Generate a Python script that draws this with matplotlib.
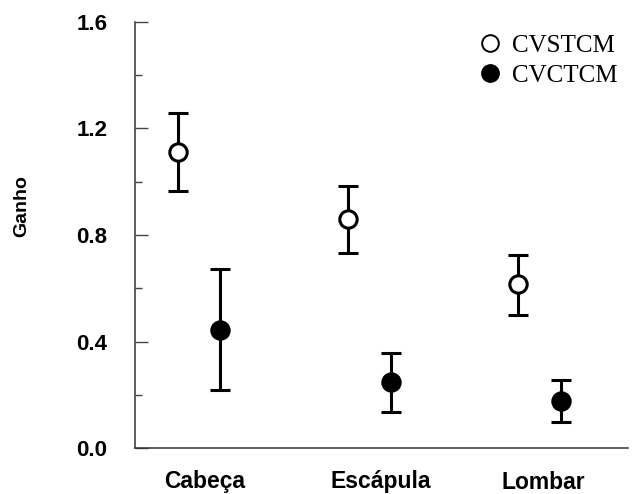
import numpy as np
import matplotlib
matplotlib.use('Agg')
from matplotlib import pyplot as plt
from matplotlib.ticker import MultipleLocator
from matplotlib.lines import Line2D

# data
categories = ['Cabeça', 'Escápula', 'Lombar']
cvstcm = [1.112, 0.860, 0.616]
cvstcm_hi = [1.258, 0.984, 0.725]
cvstcm_lo = [0.965, 0.732, 0.500]
cvctcm = [0.443, 0.248, 0.177]
cvctcm_hi = [0.672, 0.357, 0.255]
cvctcm_lo = [0.218, 0.135, 0.098]

plt.rcParams['font.family'] = ['Liberation Sans', 'DejaVu Sans']

fig = plt.figure(figsize=(6.35, 4.94), dpi=100)
ax = fig.add_axes([135/635, 1-448/494, (628-135)/635, (448-22)/494])

x = np.arange(1, len(categories)+1)
off = 0.125

def errs(v, lo, hi):
    v = np.array(v)
    return [v - np.array(lo), np.array(hi) - v]

ax.errorbar(x - off, cvstcm, yerr=errs(cvstcm, cvstcm_lo, cvstcm_hi), fmt='o',
            color='black', mfc='white', mec='black', ms=12.5, mew=2.2,
            elinewidth=2.2, capsize=7.2, capthick=2.2)
ax.errorbar(x + off, cvctcm, yerr=errs(cvctcm, cvctcm_lo, cvctcm_hi), fmt='o',
            color='black', mfc='black', mec='black', ms=12.5, mew=2.2,
            elinewidth=2.2, capsize=7.2, capthick=2.2)

ax.set_xlim(0.6235, 3.52)
ax.set_ylim(0, 1.6)
ax.yaxis.set_major_locator(MultipleLocator(0.4))
ax.yaxis.set_minor_locator(MultipleLocator(0.2))
ax.set_yticklabels([f'{v:.1f}' for v in ax.get_yticks()], fontweight='bold', fontsize=16)
ax.tick_params(axis='y', which='major', direction='in', length=9.5, width=1, color='#444444', pad=20)
ax.tick_params(axis='y', which='minor', direction='in', length=5, width=1, color='#444444')
ax.set_xticks([])

for s in ['top', 'right']:
    ax.spines[s].set_visible(False)
for s in ['left', 'bottom']:
    ax.spines[s].set_linewidth(1.1)
    ax.spines[s].set_color('#333333')

# category labels
shift = [0.035, 0.065, 0.024]
ypos = [-0.051, -0.051, -0.055]
for i, c in enumerate(categories):
    ax.text(x[i] + shift[i], ypos[i], c, transform=ax.get_xaxis_transform(),
            ha='center', va='top', fontsize=16.5, fontweight='bold')

fig.text(22/635, 1-206/494, 'Ganho', rotation=90, ha='center', va='center',
         fontsize=14, fontweight='bold')

handles = [Line2D([], [], ls='none', marker='o', ms=12, mew=1.4, mfc='white', mec='black'),
           Line2D([], [], ls='none', marker='o', ms=12.5, mew=1, mfc='black', mec='black')]
ax.legend(handles, ['CVSTCM', 'CVCTCM'], loc='upper right', bbox_to_anchor=(1.01, 1.007),
          frameon=False, prop={'family': 'Liberation Serif', 'size': 18},
          handlelength=0.6, handletextpad=0.6, labelspacing=0.3, borderaxespad=0.2)

fig.savefig('out.png', dpi=100)
